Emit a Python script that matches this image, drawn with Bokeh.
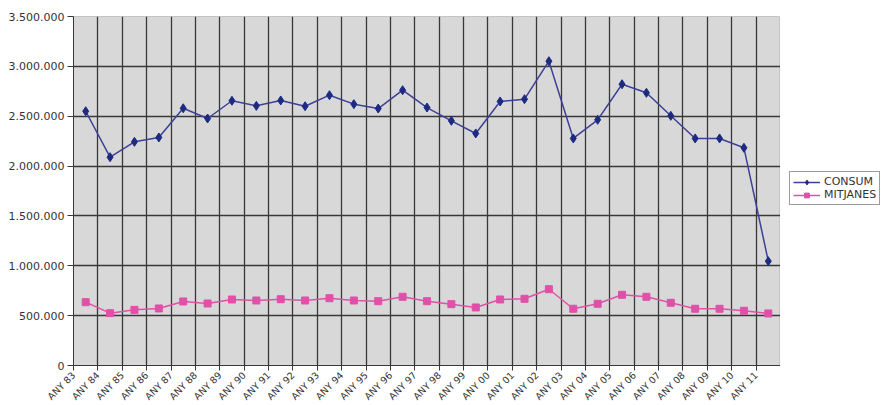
from math import pi

from bokeh.embed import file_html
from bokeh.layouts import row
from bokeh.models import (CustomJSTickFormatter, FixedTicker, Legend,
                          LegendItem, Range1d)
from bokeh.plotting import figure
from bokeh.resources import INLINE

# Yearly series
years = ["ANY 83", "ANY 84", "ANY 85", "ANY 86", "ANY 87", "ANY 88", "ANY 89",
         "ANY 90", "ANY 91", "ANY 92", "ANY 93", "ANY 94", "ANY 95", "ANY 96",
         "ANY 97", "ANY 98", "ANY 99", "ANY 00", "ANY 01", "ANY 02", "ANY 03",
         "ANY 04", "ANY 05", "ANY 06", "ANY 07", "ANY 08", "ANY 09", "ANY 10",
         "ANY 11"]

consum = [2550000, 2089000, 2243000, 2287000, 2580000, 2477000, 2655000,
          2604000, 2658000, 2600000, 2711000, 2621000, 2577000, 2761000,
          2587000, 2454000, 2327000, 2648000, 2671000, 3052000, 2277000,
          2464000, 2821000, 2735000, 2504000, 2277000, 2277000, 2183000,
          1046000]

mitjanes = [635000, 525000, 558000, 572000, 642000, 622000, 662000,
            652000, 665000, 652000, 675000, 652000, 645000, 689000,
            645000, 615000, 582000, 662000, 669000, 765000, 569000,
            619000, 709000, 689000, 629000, 569000, 569000, 549000,
            522000]

y_ticks = [0, 500000, 1000000, 1500000, 2000000, 2500000, 3000000, 3500000]

FONT = "DejaVu Sans"
TEXT = "#333333"
DARK = "#383838"
BLUE = "#1c2a82"
BLUE_LINE = "#3d4096"
PINK = "#e050a8"

n = len(years)
centers = [i + 0.5 for i in range(n)]
bounds = list(range(n + 1))

p = figure(frame_width=707, frame_height=349, output_backend="svg",
           toolbar_location=None,
           x_range=Range1d(0, n), y_range=Range1d(0, 3500000),
           min_border_left=73, min_border_right=0, min_border_top=16,
           min_border_bottom=0)

p.border_fill_color = "#ffffff"
p.background_fill_color = "#d8d8d8"
p.outline_line_color = "#c4c4c4"

# x axis: tick marks and grid at category edges, rotated names hanging
# from the left edge of each category
p.xaxis.ticker = FixedTicker(ticks=bounds)
overrides = {b: "" for b in bounds}
overrides.update({i: y for i, y in enumerate(years)})
p.xaxis.major_label_overrides = overrides
p.xaxis.major_label_orientation = pi / 4
p.xaxis.major_tick_out = 5
p.xaxis.major_tick_in = 0
p.xaxis.major_tick_line_color = DARK
p.xaxis.minor_tick_line_color = None
p.xaxis.axis_line_color = DARK
p.xaxis.major_label_text_font = FONT
p.xaxis.major_label_text_font_size = "9.5px"
p.xaxis.major_label_text_color = TEXT
p.xaxis.major_label_standoff = 3

p.xgrid.ticker = FixedTicker(ticks=bounds)
p.xgrid.grid_line_color = DARK
p.xgrid.grid_line_width = 1.3

# y axis with dotted thousands separators
p.yaxis.ticker = FixedTicker(ticks=y_ticks)
p.yaxis.formatter = CustomJSTickFormatter(
    code="return Math.round(tick).toString().replace(/\\B(?=(\\d{3})+(?!\\d))/g, '.');")
p.yaxis.major_tick_out = 6
p.yaxis.major_tick_in = 0
p.yaxis.minor_tick_line_color = None
p.yaxis.major_tick_line_color = DARK
p.yaxis.axis_line_color = DARK
p.yaxis.major_label_text_font = FONT
p.yaxis.major_label_text_font_size = "11px"
p.yaxis.major_label_text_color = TEXT
p.yaxis.major_label_standoff = 3

p.ygrid.grid_line_color = DARK
p.ygrid.grid_line_width = 1.3

# series
p.line(centers, consum, line_color=BLUE_LINE, line_width=1.5)
p.scatter(centers, consum, marker="diamond", size=9,
          fill_color=BLUE, line_color=BLUE)
p.line(centers, mitjanes, line_color=PINK, line_width=1.5)
p.scatter(centers, mitjanes, marker="square", size=7,
          fill_color=PINK, line_color=PINK)

# legend panel to the right of the chart; its swatch glyphs sit outside
# the visible range so only the legend entries show
lg = figure(width=106, height=405, output_backend="svg", toolbar_location=None,
            x_range=Range1d(0, 1), y_range=Range1d(0, 1),
            x_axis_location=None, y_axis_location=None,
            min_border=0)
lg.outline_line_color = None
lg.grid.visible = False
lg.background_fill_color = "#ffffff"
lg.border_fill_color = "#ffffff"

off = [-5]
k1 = lg.line(off, off, line_color=BLUE_LINE, line_width=1.5)
s1 = lg.scatter(off, off, marker="diamond", size=9, fill_color=BLUE, line_color=BLUE)
k2 = lg.line(off, off, line_color=PINK, line_width=1.5)
s2 = lg.scatter(off, off, marker="square", size=7, fill_color=PINK, line_color=PINK)

legend = Legend(items=[LegendItem(label="CONSUM", renderers=[k1, s1]),
                       LegendItem(label="MITJANES", renderers=[k2, s2])],
                location=(9, 157), orientation="vertical")
legend.border_line_color = DARK
legend.border_line_width = 1
legend.background_fill_color = "#ffffff"
legend.background_fill_alpha = 1
legend.label_text_font = FONT
legend.label_text_font_size = "11px"
legend.label_text_color = TEXT
legend.label_height = 12
legend.glyph_height = 12
legend.glyph_width = 27
legend.label_standoff = 4
legend.spacing = 0
legend.padding = 3
legend.margin = 0
lg.add_layout(legend, "center")

open("out.html", "w").write(file_html(row(p, lg), INLINE))
